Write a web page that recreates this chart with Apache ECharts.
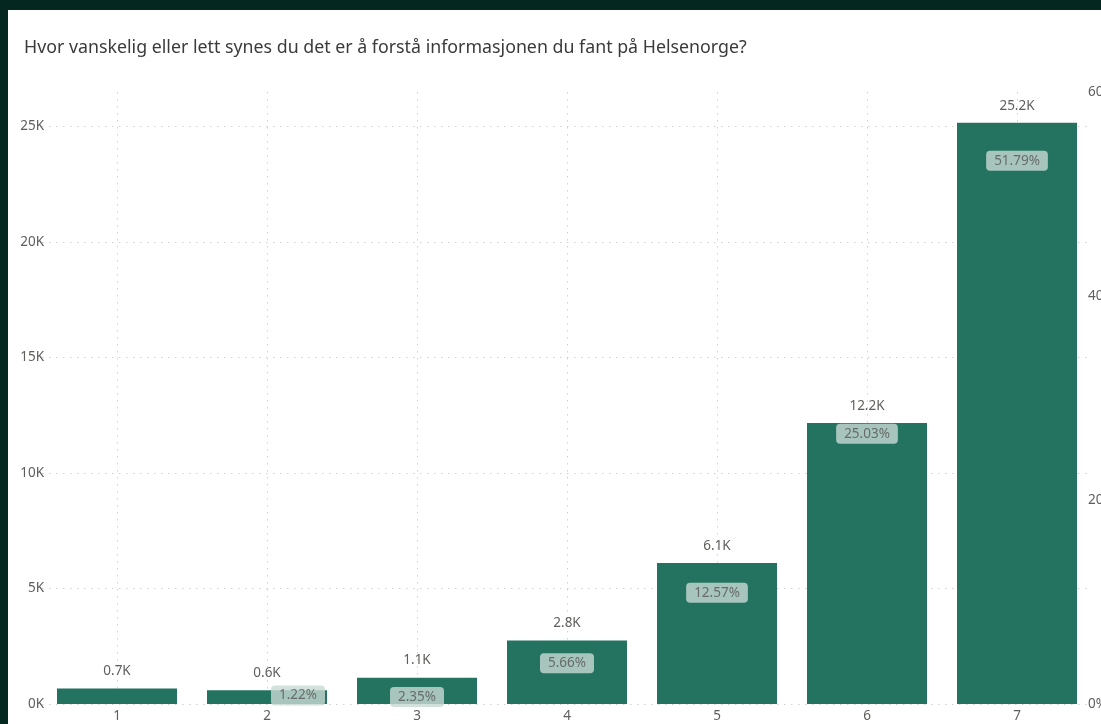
<!DOCTYPE html>
<html>
<head>
<meta charset="utf-8">
<script src="https://cdn.jsdelivr.net/npm/echarts@6/dist/echarts.min.js"></script>
<style>
  html, body { margin: 0; padding: 0; background: #04271f; width: 1101px; height: 724px; overflow: hidden; }
  #chart { position: absolute; left: 8px; top: 10px; width: 1093px; height: 714px; background: #ffffff; }
</style>
</head>
<body>
<div id="chart"></div>
<script>
const titleText = 'Hvor vanskelig eller lett synes du det er å forstå informasjonen du fant på Helsenorge?';
const categories = ['1', '2', '3', '4', '5', '6', '7'];
const counts = [671, 593, 1142, 2751, 6110, 12166, 25170];
const percents = [1.38, 1.22, 2.35, 5.66, 12.57, 25.03, 51.79];
const showPercent = [false, true, true, true, true, true, true];
const percentLabelOffsets = [[0, 0], [31, 4], [0, 17], [0, 17], [0, 17], [0, -15], [0, -15]];
const leftTicks = [0, 5000, 10000, 15000, 20000, 25000];
const rightTicks = [0, 20, 40, 60];

const textColor = '#605E5C';
const gridColor = '#d0d0d0';

const chart = echarts.init(document.getElementById('chart'), null, { renderer: 'canvas' });

const percentData = percents.map((p, i) => ({
  value: p,
  label: {
    show: showPercent[i],
    offset: percentLabelOffsets[i]
  }
}));

const option = {
  animation: false,
  title: {
    text: titleText,
    left: 11,
    top: 24,
    textStyle: { fontFamily: 'Noto Sans', fontSize: 17.8, fontWeight: 'normal', color: '#3b3a39' }
  },
  grid: { left: 34, right: 9, top: 82, bottom: 20, containLabel: false, outerBoundsMode: 'none' },
  xAxis: {
    type: 'category',
    data: categories,
    axisLine: { show: false },
    axisTick: { show: false },
    axisLabel: { color: textColor, fontSize: 13.5, fontFamily: 'Noto Sans', margin: 5 },
    splitLine: {
      show: true,
      alignWithLabel: true,
      lineStyle: { color: gridColor, type: [1.5, 5.5], width: 1 }
    }
  },
  yAxis: [
    {
      type: 'value',
      min: 0,
      max: 26500,
      interval: 5000,
      axisLine: { show: false },
      axisTick: { show: false },
      axisLabel: {
        color: textColor, fontSize: 13.5, fontFamily: 'Noto Sans', margin: -2,
        formatter: v => leftTicks.indexOf(v) >= 0 ? (v / 1000) + 'K' : ''
      },
      splitLine: {
        show: true,
        lineStyle: {
          color: [gridColor, gridColor, gridColor, gridColor, gridColor, gridColor, 'rgba(0,0,0,0)'],
          type: [1.5, 5.5], width: 1
        }
      }
    },
    {
      type: 'value',
      min: 0,
      max: 60,
      interval: 20,
      position: 'right',
      axisLine: { show: false },
      axisTick: { show: false },
      splitLine: { show: false },
      axisLabel: {
        color: textColor, fontSize: 13.5, fontFamily: 'Noto Sans', margin: -4,
        formatter: v => rightTicks.indexOf(v) >= 0 ? v + '%' : ''
      }
    }
  ],
  series: [
    {
      type: 'bar',
      data: counts,
      barCategoryGap: '20%',
      itemStyle: { color: '#237360' },
      label: {
        show: true,
        position: 'top',
        distance: 10,
        color: textColor,
        fontSize: 13.5,
        fontFamily: 'Noto Sans',
        formatter: p => (p.value / 1000).toFixed(1) + 'K'
      },
      z: 2
    },
    {
      type: 'scatter',
      yAxisIndex: 1,
      data: percentData,
      symbolSize: 0,
      label: {
        show: true,
        position: 'inside',
        color: '#555555',
        fontSize: 13.5,
        fontFamily: 'Noto Sans',
        backgroundColor: '#c8dad3',
        borderRadius: 4,
        padding: [3, 8],
        formatter: p => p.value.toFixed(2) + '%'
      },
      z: 5
    }
  ]
};

chart.setOption(option);
</script>
</body>
</html>
